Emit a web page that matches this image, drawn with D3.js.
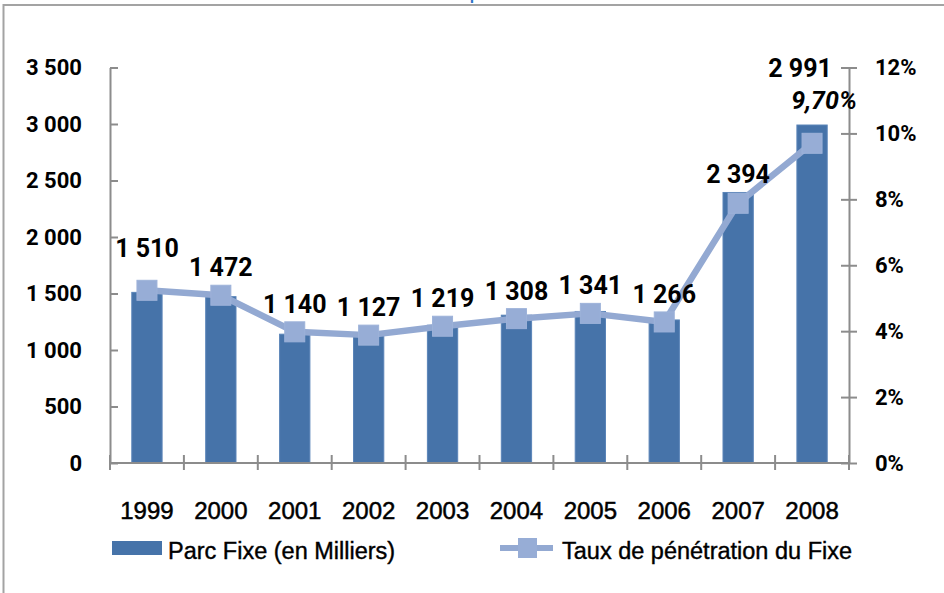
<!DOCTYPE html>
<html>
<head>
<meta charset="utf-8">
<script src="https://cdn.jsdelivr.net/npm/d3@7"></script>
<style>
  body { margin: 0; background: #fff; }
  svg { display: block; font-family: "Liberation Sans", Arial, sans-serif; }
  .axis .domain, .axis line { stroke: #8c8c8c; stroke-width: 2; }
  .axis text { font-family: Roboto, "Open Sans", sans-serif; font-weight: bold; font-size: 22px; fill: #000; }
  .cat { font-size: 24px; fill: #000; stroke: #000; stroke-width: 0.5; }
  .value { font-family: Roboto, sans-serif; font-weight: bold; font-size: 25px; fill: #000; }
  .legend text { font-size: 23.5px; fill: #000; stroke: #000; stroke-width: 0.4; }
</style>
</head>
<body>
<svg></svg>
<script>
const years = ["1999", "2000", "2001", "2002", "2003", "2004", "2005", "2006", "2007", "2008"];
const parc = [1510, 1472, 1140, 1127, 1219, 1308, 1341, 1266, 2394, 2991];
const taux = [5.24, 5.09, 3.98, 3.88, 4.15, 4.38, 4.54, 4.28, 7.88, 9.7];
const leftTicks = [0, 500, 1000, 1500, 2000, 2500, 3000, 3500];
const rightTicks = [0, 2, 4, 6, 8, 10, 12];
const seriesNames = ["Parc Fixe (en Milliers)", "Taux de pénétration du Fixe"];
const title = "Parc et taux de pénétration du fixe";

const barColor = "#4673a9";
const lineColor = "#93a9d2";

const svg = d3.select("svg").attr("width", 944).attr("height", 593);

const fr = d3.formatLocale({ decimal: ",", thousands: " ", grouping: [3], currency: ["", " €"] });
const num = fr.format(",d");
const pct = fr.format(".2f");

// frame + title (cut off by the top edge, as in the original)
svg.append("rect")
  .attr("x", 3.5).attr("y", 5)
  .attr("width", 1000).attr("height", 1000)
  .attr("fill", "none").attr("stroke", "#a3a3a3").attr("stroke-width", 2);

svg.append("text")
  .attr("x", 484).attr("y", -2)
  .attr("text-anchor", "middle")
  .attr("fill", "#2a73c5")
  .style("font-size", "24px")
  .text(title);

const x = d3.scaleBand()
  .domain(years)
  .range([110, 849])
  .paddingInner(0.59)
  .paddingOuter(0.295);

const y = d3.scaleLinear().domain([0, 3500]).range([463, 67.5]);
const y2 = d3.scaleLinear().domain([0, 12]).range([463, 67.5]);

const bw = x.bandwidth();
const cx = d => x(d) + bw / 2;

// bars
svg.append("g")
  .selectAll("rect")
  .data(parc)
  .enter()
  .append("rect")
  .attr("x", (d, i) => x(years[i]))
  .attr("y", d => y(d))
  .attr("width", bw)
  .attr("height", d => y(0) - y(d))
  .attr("fill", barColor)
  .attr("stroke", "#5a84b8")
  .attr("stroke-width", 1);

// left axis
const gl = svg.append("g")
  .attr("class", "axis")
  .attr("transform", "translate(110,0)")
  .call(d3.axisLeft(y).tickValues(leftTicks).tickSize(8).tickSizeOuter(0).tickPadding(20).tickFormat(num));
gl.selectAll(".tick line").attr("x2", 8);

// right axis
const gr = svg.append("g")
  .attr("class", "axis")
  .attr("transform", "translate(849,0)")
  .call(d3.axisRight(y2).tickValues(rightTicks).tickSize(8).tickSizeOuter(0).tickPadding(18).tickFormat(d => d + "%"));
gr.selectAll(".tick line").attr("x1", -8);

// x axis baseline with boundary ticks
const gx = svg.append("g").attr("class", "axis");
gx.append("line")
  .attr("x1", x.range()[0]).attr("x2", x.range()[1])
  .attr("y1", y(0)).attr("y2", y(0));
const edges = years.map(d => x(d) - x.step() * x.paddingInner() / 2).concat([x.range()[1]]);
gx.selectAll("line.edge")
  .data(edges)
  .enter()
  .append("line")
  .attr("class", "edge")
  .attr("x1", d => d).attr("x2", d => d)
  .attr("y1", y(0) - 8).attr("y2", y(0) + 7);

svg.append("g")
  .selectAll("text")
  .data(years)
  .enter()
  .append("text")
  .attr("class", "cat")
  .attr("x", d => cx(d))
  .attr("y", 519)
  .attr("text-anchor", "middle")
  .text(d => d);

// line + markers
const line = d3.line()
  .x((d, i) => cx(years[i]))
  .y(d => y2(d));

svg.append("path")
  .datum(taux)
  .attr("d", line)
  .attr("fill", "none")
  .attr("stroke", lineColor)
  .attr("stroke-width", 6.5)
  .attr("stroke-linejoin", "round");

svg.append("g")
  .selectAll("rect")
  .data(taux)
  .enter()
  .append("rect")
  .attr("x", (d, i) => cx(years[i]) - 10)
  .attr("y", d => y2(d) - 10)
  .attr("width", 20)
  .attr("height", 20)
  .attr("fill", "#97add6")
  .attr("stroke", "#9db2d9")
  .attr("stroke-width", 1);

// value labels
const last = years.length - 1;
svg.append("g")
  .selectAll("text")
  .data(parc)
  .enter()
  .append("text")
  .attr("class", "value")
  .attr("text-anchor", "middle")
  .attr("x", (d, i) => cx(years[i]) + (i === last ? -12 : 0))
  .attr("y", (d, i) => {
    const top = Math.min(y(d), y2(taux[i]) - 10);
    let lift = 18;
    if (i === 0) lift = 32;
    if (i === last) lift = 57;
    return top - lift + 9;
  })
  .text(d => num(d));

svg.append("text")
  .attr("class", "value")
  .attr("text-anchor", "middle")
  .attr("font-style", "italic")
  .attr("x", cx(years[last]) + 12)
  .attr("y", y(parc[last]) - 25 + 9)
  .text(pct(taux[last]) + "%");

// legend
const lg = svg.append("g").attr("class", "legend");
lg.append("rect")
  .attr("x", 112).attr("y", 541)
  .attr("width", 50).attr("height", 14)
  .attr("fill", barColor);
lg.append("text").attr("x", 168).attr("y", 559).text(seriesNames[0]);

lg.append("line")
  .attr("x1", 500).attr("x2", 553)
  .attr("y1", 548).attr("y2", 548)
  .attr("stroke", lineColor).attr("stroke-width", 6);
lg.append("rect")
  .attr("x", 518).attr("y", 538)
  .attr("width", 19).attr("height", 20)
  .attr("fill", "#97add6");
lg.append("text").attr("x", 562).attr("y", 559).text(seriesNames[1]);
</script>
</body>
</html>
